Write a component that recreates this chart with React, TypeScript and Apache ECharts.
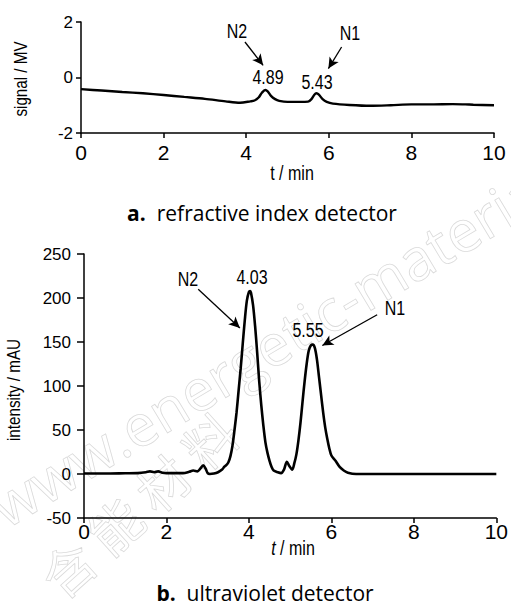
import React, { useRef, useEffect } from 'react';
import * as echarts from 'echarts';

// ---- data: (a) refractive index detector ----
const rtTime = [0, 0.5, 1, 1.5, 2, 2.5, 3, 3.5, 3.85, 4.1, 4.2, 4.3, 4.38, 4.46, 4.52, 4.6, 4.7, 4.8, 5, 5.3, 5.5, 5.58, 5.65, 5.7, 5.76, 5.85, 5.95, 6.1, 6.5, 7, 7.5, 8, 8.5, 9, 9.3, 9.5, 10];
const rtSignal = [-0.42, -0.47, -0.52, -0.57, -0.63, -0.70, -0.77, -0.86, -0.91, -0.86, -0.83, -0.72, -0.55, -0.45, -0.50, -0.66, -0.78, -0.84, -0.88, -0.88, -0.87, -0.78, -0.62, -0.57, -0.62, -0.78, -0.88, -0.94, -0.99, -1.02, -1.0, -0.97, -0.97, -0.96, -0.97, -0.98, -1.0];

// ---- data: (b) ultraviolet detector ----
const uvTime = [0, 0.5, 1, 1.3, 1.5, 1.6, 1.7, 1.8, 1.9, 2, 2.2, 2.4, 2.55, 2.65, 2.75, 2.82, 2.89, 2.95, 3, 3.05, 3.15, 3.25, 3.35, 3.4, 3.45, 3.5, 3.55, 3.6, 3.65, 3.7, 3.75, 3.8, 3.85, 3.9, 3.95, 4, 4.03, 4.05, 4.1, 4.15, 4.2, 4.25, 4.3, 4.35, 4.4, 4.45, 4.5, 4.55, 4.6, 4.7, 4.78, 4.85, 4.92, 4.98, 5.05, 5.1, 5.15, 5.2, 5.25, 5.3, 5.35, 5.4, 5.45, 5.5, 5.55, 5.6, 5.65, 5.7, 5.75, 5.8, 5.85, 5.9, 5.95, 6, 6.1, 6.2, 6.3, 6.4, 6.6, 7, 8, 9, 10];
const uvIntensity = [0.5, 0.5, 0.8, 1, 2, 3, 2, 3, 1.5, 1, 1, 1, 2.5, 4, 3, 6, 10, 6, 1, 0, 0.5, 2, 5, 8, 10, 13, 20, 32, 50, 70, 95, 120, 148, 175, 197, 207, 208, 206, 192, 168, 138, 105, 78, 55, 36, 24, 15, 8, 4, 2, 1, 5, 14, 9, 5, 12, 22, 38, 58, 82, 105, 125, 140, 146, 147, 143, 130, 110, 90, 70, 53, 40, 29, 21, 15, 8, 4, 1.5, 0, 0, 0, 0, 0];

// ---- axes / annotations ----
const xTicks = { min: 0, max: 10, interval: 2 };
const rtY = { min: -2, max: 2, interval: 2 };
const uvY = { min: -50, max: 250, interval: 50 };
const rtArrows = [
  { from: [3.97, 1.28], to: [4.41, 0.44] },
  { from: [6.31, 1.1], to: [5.99, 0.32] },
];
const uvArrows = [
  { from: [2.77, 210], to: [3.78, 166] },
  { from: [7.11, 181], to: [5.78, 146] },
];

const SANS = '"Liberation Sans", Arial, sans-serif';
const CAP = '"Open Sans", "Noto Sans", sans-serif';
const NARROW_SCALE = 0.8;

function zip(xs: number[], ys: number[]) {
  return xs.map((x, i) => [x, ys[i]]);
}

function arrowLines(arr: { from: number[]; to: number[] }[]) {
  return arr.map((a) => [{ coord: a.from }, { coord: a.to }]);
}

export default function App() {
  const ref = useRef<HTMLDivElement>(null);
  useEffect(() => {
    if (!ref.current) return;
    const chart = echarts.init(ref.current, undefined, { renderer: 'svg' });
    const axisLine = { onZero: false, lineStyle: { color: '#000', width: 1.5 } };
    const axisTick = { length: 5, lineStyle: { color: '#000', width: 1.5 } };
    const markLine = (arr: any) => ({
      silent: true,
      symbol: ['none', 'arrow'],
      symbolSize: [8, 11],
      label: { show: false },
      lineStyle: { color: '#000', width: 1.3, type: 'solid' },
      emphasis: { disabled: true },
      data: arrowLines(arr),
    });
    const txt = (x: number, y: number, text: string, size = 20, extra: any = {}) => ({
      type: 'text',
      x,
      y,
      z: 10,
      scaleX: NARROW_SCALE,
      style: {
        text,
        fill: '#000',
        fontSize: size,
        fontFamily: SANS,
        textAlign: 'center',
        textVerticalAlign: 'middle',
        ...extra,
      },
    });
    const caption = (x: number, y: number, letter: string, rest: string, size: number) => ({
      type: 'text',
      x,
      y,
      style: {
        text: `{b|${letter}}  ${rest}`,
        fontSize: size,
        fontFamily: CAP,
        fill: '#000',
        textAlign: 'center',
        textVerticalAlign: 'middle',
        rich: { b: { fontSize: size, fontFamily: CAP, fontWeight: 'bold', fill: '#000' } },
      },
    });
    const option: any = {
      animation: false,
      backgroundColor: '#fff',
      grid: [
        { left: 81, top: 22, width: 413, height: 111 },
        { left: 84, top: 254, width: 416, height: 264 },
      ],
      xAxis: [0, 1].map((g) => ({
        gridIndex: g,
        type: 'value',
        ...xTicks,
        axisLine,
        axisTick,
        splitLine: { show: false },
        axisLabel: { color: '#000', fontFamily: SANS, fontSize: 21, margin: g === 0 ? 9 : 3 },
      })),
      yAxis: [
        {
          gridIndex: 0,
          type: 'value',
          ...rtY,
          axisLine,
          axisTick,
          splitLine: { show: false },
          axisLabel: { color: '#000', fontFamily: SANS, fontSize: 17, margin: 8 },
        },
        {
          gridIndex: 1,
          type: 'value',
          ...uvY,
          axisLine,
          axisTick: { length: 7, lineStyle: { color: '#000', width: 1.5 } },
          splitLine: { show: false },
          axisLabel: { color: '#000', fontFamily: SANS, fontSize: 17, margin: 13 },
        },
      ],
      series: [
        {
          type: 'line',
          xAxisIndex: 0,
          yAxisIndex: 0,
          data: zip(rtTime, rtSignal),
          symbol: 'none',
          smooth: 0.3,
          lineStyle: { color: '#000', width: 2.4 },
          z: 5,
          markLine: markLine(rtArrows),
        },
        {
          type: 'line',
          xAxisIndex: 1,
          yAxisIndex: 1,
          data: zip(uvTime, uvIntensity),
          symbol: 'none',
          smooth: 0.3,
          lineStyle: { color: '#000', width: 2.6 },
          z: 5,
          markLine: markLine(uvArrows),
        },
      ],
      graphic: [
        // watermark
        {
          type: 'text',
          x: 10,
          y: 535,
          rotation: (31 * Math.PI) / 180,
          z: -10,
          silent: true,
          style: {
            text: 'www.energetic-materials.org.cn',
            fontSize: 58,
            fontFamily: CAP,
            fill: 'rgba(0,0,0,0)',
            stroke: '#dadada',
            lineWidth: 0.8,
            textAlign: 'left',
            textVerticalAlign: 'bottom',
          },
        },
        {
          type: 'text',
          x: 65,
          y: 604,
          rotation: (42 * Math.PI) / 180,
          z: -10,
          silent: true,
          style: {
            text: '含 能 材 料',
            fontSize: 52,
            fontFamily: '"Noto Sans CJK SC"',
            fill: 'rgba(0,0,0,0)',
            stroke: '#dadada',
            lineWidth: 0.8,
            textAlign: 'left',
            textVerticalAlign: 'bottom',
          },
        },
        // chart a annotations
        txt(237, 31, 'N2'),
        txt(350, 33, 'N1'),
        txt(268, 77, '4.89'),
        txt(317, 82, '5.43'),
        txt(292, 173, 't / min'),
        { ...txt(20, 79, 'signal / MV', 19), rotation: Math.PI / 2 },
        caption(262, 213, 'a.', 'refractive index detector', 21),
        // chart b annotations
        txt(188, 279, 'N2'),
        txt(395, 308, 'N1'),
        txt(252, 277, '4.03'),
        txt(308, 330, '5.55'),
        {
          ...txt(293, 548, '{i|t} / min'),
          style: {
            text: '{i|t} / min',
            fontSize: 20,
            fontFamily: SANS,
            fill: '#000',
            textAlign: 'center',
            textVerticalAlign: 'middle',
            rich: { i: { fontStyle: 'italic', fontSize: 20, fontFamily: SANS, fill: '#000' } },
          },
        },
        { ...txt(13, 390, 'intensity / mAU', 19), rotation: Math.PI / 2 },
        caption(265, 593, 'b.', 'ultraviolet detector', 21),
      ],
    };
    chart.setOption(option);
    return () => chart.dispose();
  }, []);
  return (
    <div
      ref={ref}
      style={{ position: 'absolute', left: 0, top: 0, width: 511, height: 607 }}
    />
  );
}
